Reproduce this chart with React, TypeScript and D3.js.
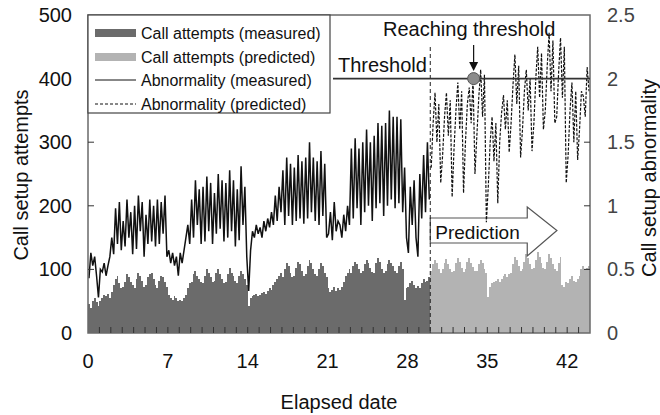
import React from 'react';
import * as d3 from 'd3';

// ---- Data (samples every 4 hours: 6 per day) ----
const SAMPLES_PER_DAY = 6;
const PREDICTION_START = 30;
const TOTAL_DAYS = 44;

const callsMeasured = [
  45,40,50,55,48,42, 50,55,60,58,62,55, 65,75,85,90,78,70, 72,80,92,88,80,75,
  70,85,95,90,82,72, 75,88,92,95,85,75, 70,82,90,88,80,72, 60,55,52,58,55,50,
  52,50,55,60,70,78, 80,92,98,90,85,80, 78,90,100,95,88,80, 82,95,100,92,85,78,
  80,92,102,95,90,82, 78,90,98,92,85,75, 42,55,58,60,62,58, 60,63,65,62,66,70,
  68,75,80,85,90,95, 88,100,110,105,95,88, 90,102,112,108,98,90, 92,105,115,110,100,92,
  90,100,110,105,95,88, 70,65,68,72,66,70, 68,72,80,90,95,100, 95,105,112,108,100,95,
  98,108,115,110,102,96, 95,110,118,112,100,95, 98,108,115,110,105,98, 95,105,112,100,52,70,
  72,78,82,75,70,74, 70,78,85,80,82,88,
];

const callsPredicted = [
  98,108,115,110,100,95, 100,110,116,108,100,96, 98,110,118,112,102,96, 100,112,118,110,104,98,
  98,108,115,110,100,95, 57,72,78,80,82,85, 80,85,90,92,88,92, 95,108,120,115,105,98,
  100,112,125,118,108,100, 102,115,128,120,110,102, 100,112,125,118,108,100, 98,110,120,75,72,80,
  78,85,90,82,80,85, 90,100,105,100,102,105,
];

const abnormalityMeasured = [
  0.43,0.63,0.53,0.60,0.45,0.28, 0.50,0.48,0.55,0.45,0.53,0.60, 0.75,0.62,0.98,0.70,1.03,0.65,
  0.88,0.68,1.05,0.75,0.95,0.62, 1.00,0.66,1.08,0.80,1.03,0.60, 0.93,0.70,1.05,0.72,1.00,0.68,
  1.05,0.70,1.03,0.78,1.08,0.60, 0.65,0.55,0.63,0.53,0.60,0.45, 0.63,0.55,0.65,0.75,0.85,0.70,
  1.05,0.75,1.20,0.85,1.13,0.70, 1.15,0.72,1.23,0.80,1.18,0.70, 1.10,0.78,1.25,0.82,1.20,0.72,
  1.18,0.75,1.28,0.80,1.20,0.68, 1.13,0.73,1.31,0.85,1.15,0.60, 0.33,0.65,0.80,0.75,0.85,0.78,
  0.83,0.75,0.88,0.80,0.90,0.83, 0.95,0.85,1.08,0.88,1.15,0.95, 1.28,0.85,1.38,0.92,1.33,0.85,
  1.30,0.88,1.40,0.90,1.35,0.86, 1.38,0.90,1.50,0.95,1.38,0.88, 1.35,0.85,1.43,0.92,1.33,0.75,
  0.78,0.95,0.73,1.03,0.80,0.88, 0.85,0.75,0.93,0.80,1.00,0.85, 1.45,0.90,1.53,0.98,1.45,0.85,
  1.50,0.95,1.60,1.00,1.50,0.88, 1.55,0.98,1.65,1.02,1.63,0.92, 1.65,1.00,1.75,1.05,1.70,0.98,
  1.70,1.02,1.68,0.95,1.30,0.75, 0.63,1.15,0.85,1.20,0.75,0.60, 1.25,0.90,1.40,0.95,1.50,1.05,
];

const abnormalityPredicted = [
  1.30,1.65,1.89,1.50,1.80,1.18, 1.40,1.70,1.89,1.55,1.83,1.07, 1.45,1.75,1.97,1.60,1.90,1.10,
  1.50,1.80,1.93,1.65,2.00,1.25, 1.55,1.85,2.07,1.70,2.03,0.87, 1.15,1.50,1.70,1.35,1.65,1.02,
  1.50,1.73,1.87,1.60,1.83,1.42, 1.65,1.95,2.19,1.80,2.10,1.38, 1.60,1.90,2.07,1.75,2.00,1.43,
  1.65,2.00,2.25,1.85,2.20,1.60, 1.75,2.10,2.36,1.90,2.30,1.65, 1.70,2.05,2.32,1.85,2.25,1.18,
  1.40,1.75,1.97,1.50,1.90,1.36, 1.60,1.90,1.86,1.70,2.09,1.90,
];

const THRESHOLD = 2;
const REACH_DAY = 33.8;

const xTickLabels = [0, 7, 14, 21, 28, 35, 42];
const leftTickLabels = [0, 100, 200, 300, 400, 500];
const rightTickLabels = [0, 0.5, 1, 1.5, 2, 2.5];

const legendItems = [
  { label: 'Call attempts (measured)', kind: 'rect', color: '#6b6b6b' },
  { label: 'Call attempts (predicted)', kind: 'rect', color: '#b3b3b3' },
  { label: 'Abnormality (measured)', kind: 'line', dash: '' },
  { label: 'Abnormality (predicted)', kind: 'line', dash: '3,2' },
];

const FONT = '"Liberation Sans", Arial, Helvetica, sans-serif';

export default function App() {
  const left = 88, right = 590, top = 15, bottom = 333;
  const x = d3.scaleLinear().domain([0, TOTAL_DAYS]).range([left, right]);
  const yL = d3.scaleLinear().domain([0, 500]).range([bottom, top]);
  const yR = d3.scaleLinear().domain([0, 2.5]).range([bottom, top]);

  const barRects = (vals: number[], start: number, color: string, key: string) =>
    vals.map((v, i) => {
      const x0 = Math.round(x(start + i / SAMPLES_PER_DAY));
      const x1 = Math.round(x(start + (i + 1) / SAMPLES_PER_DAY));
      const y0 = Math.round(yL(v));
      return (
        <rect key={key + i} x={x0} y={y0} width={x1 - x0} height={bottom - y0}
          fill={color} shapeRendering="crispEdges" />
      );
    });

  const lineGen = (start: number) =>
    d3.line<number>()
      .x((_, i) => x(start + (i + 0.5) / SAMPLES_PER_DAY))
      .y((d) => yR(d));

  const measuredPath = lineGen(0)(abnormalityMeasured) || '';
  const predictedPath = lineGen(PREDICTION_START)(abnormalityPredicted) || '';

  const dayTicks = d3.range(1, TOTAL_DAYS);
  const xp = x(PREDICTION_START);
  const yThr = yR(THRESHOLD);
  const xr = x(REACH_DAY);

  // Prediction arrow geometry
  const aBodyTop = 218, aBodyBot = 243, aHeadTop = 207, aHeadBot = 256;
  const aHeadX = x(38.5), aTipX = x(41.1), aMid = (aBodyTop + aBodyBot) / 2;
  const arrowPts = [
    [xp, aBodyTop], [aHeadX, aBodyTop], [aHeadX, aHeadTop], [aTipX, aMid],
    [aHeadX, aHeadBot], [aHeadX, aBodyBot], [xp, aBodyBot],
  ].map((p) => p.join(',')).join(' ');

  const frameColor = '#6a6a6a';

  return (
    <svg width={660} height={415} style={{ position: 'absolute', left: 0, top: 0, background: '#fff' }}
      fontFamily={FONT}>
      <rect x={0} y={0} width={660} height={415} fill="#fff" />
      {/* bars */}
      {barRects(callsMeasured, 0, '#6b6b6b', 'm')}
      {barRects(callsPredicted, PREDICTION_START, '#b3b3b3', 'p')}

      {/* prediction arrow */}
      <polygon points={arrowPts} fill="#fff" stroke="#555" strokeWidth={1.2} />
      <text x={xp + 5} y={239} fontSize={19} fill="#111">Prediction</text>

      {/* abnormality lines */}
      <path d={measuredPath} fill="none" stroke="#111" strokeWidth={1.5} strokeLinejoin="miter" />
      <path d={predictedPath} fill="none" stroke="#111" strokeWidth={1.2} strokeDasharray="3,1.5" />

      {/* prediction boundary */}
      <line x1={xp} x2={xp} y1={47} y2={bottom} stroke="#222" strokeWidth={1} strokeDasharray="4,3" />

      {/* frame */}
      <rect x={left} y={top} width={right - left} height={bottom - top} fill="none"
        stroke={frameColor} strokeWidth={1.5} />

      {/* x ticks */}
      {dayTicks.map((d) => (
        <line key={'xt' + d} x1={x(d)} x2={x(d)} y1={bottom} y2={bottom - 6} stroke="#333" strokeWidth={1} />
      ))}
      {xTickLabels.map((d) => (
        <text key={'xl' + d} x={x(d)} y={368} fontSize={20} textAnchor="middle" fill="#111">{d}</text>
      ))}

      {/* left ticks */}
      {leftTickLabels.map((v) => (
        <g key={'yl' + v}>
          {v > 0 && v < 500 && (
            <line x1={left} x2={left + 6} y1={yL(v)} y2={yL(v)} stroke="#333" strokeWidth={1} />
          )}
          <text x={72} y={yL(v) + 7} fontSize={20} textAnchor="end" fill="#111">{v}</text>
        </g>
      ))}

      {/* right ticks */}
      {rightTickLabels.map((v) => (
        <g key={'yr' + v}>
          {v > 0 && v < 2.5 && (
            <line x1={right} x2={right - 6} y1={yR(v)} y2={yR(v)} stroke="#333" strokeWidth={1} />
          )}
          <text x={607} y={yR(v) + 7} fontSize={20} textAnchor="start" fill="#444">{String(v)}</text>
        </g>
      ))}

      {/* legend */}
      <rect x={left} y={top} width={242} height={98} fill="#fff" stroke="#444" strokeWidth={1.2} />
      {legendItems.map((it, i) => {
        const cy = [33, 57, 80, 104][i];
        return (
          <g key={'lg' + i}>
            {it.kind === 'rect' ? (
              <rect x={95} y={cy - 4} width={41} height={8} fill={it.color} />
            ) : (
              <line x1={95} x2={136} y1={cy} y2={cy} stroke="#111" strokeWidth={1}
                strokeDasharray={it.dash || undefined} />
            )}
            <text x={141} y={cy + 6} fontSize={16} fill="#111">{it.label}</text>
          </g>
        );
      })}

      {/* threshold */}
      <line x1={333} x2={right} y1={yThr} y2={yThr} stroke="#333" strokeWidth={1.6} />
      <text x={338} y={72} fontSize={20} fill="#111">Threshold</text>
      <text x={383} y={36} fontSize={20} fill="#111">Reaching threshold</text>
      <line x1={xr} x2={xr} y1={45} y2={63} stroke="#111" strokeWidth={1.2} />
      <polygon points={`${xr - 4.5},${62} ${xr + 4.5},${62} ${xr},${71}`} fill="#111" />
      <circle cx={xr} cy={yThr} r={6} fill="#8c8c8c" stroke="#555" strokeWidth={1} />

      {/* axis titles */}
      <text transform="translate(28,175) rotate(-90)" fontSize={20} textAnchor="middle" fill="#111">
        Call setup attempts
      </text>
      <text transform="translate(656,178) rotate(-90)" fontSize={20} textAnchor="middle" fill="#111">
        Call setup abnormality
      </text>
      <text x={339} y={409} fontSize={20} textAnchor="middle" fill="#111">Elapsed date</text>
    </svg>
  );
}
